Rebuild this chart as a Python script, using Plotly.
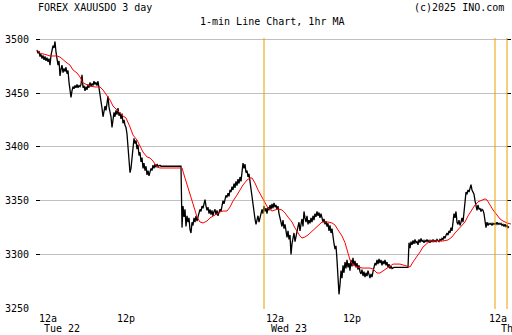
import plotly.graph_objects as go

# 1-minute gold spot quotes, one sample per chart column (sample 0 = Tue 00:00)
price = [
    3490, 3487, 3489, 3484, 3486, 3482, 3485, 3481, 3484, 3480, 3483, 3479, 3482, 3476, 3485, 3490,
    3494, 3492, 3498, 3488, 3481, 3476, 3480, 3466, 3472, 3476, 3469, 3473, 3470, 3474, 3468, 3471,
    3460, 3452, 3446, 3452, 3456, 3454, 3457, 3455, 3458, 3455, 3457, 3456, 3458, 3467, 3455, 3457,
    3452, 3456, 3453, 3458, 3455, 3460, 3456, 3459, 3457, 3461, 3458, 3460, 3457, 3461, 3455, 3450,
    3445, 3436, 3428, 3432, 3438, 3434, 3440, 3447, 3437, 3433, 3428, 3418, 3426, 3432, 3428, 3434,
    3430, 3436, 3429, 3432, 3426, 3431, 3422, 3425, 3420, 3418, 3412, 3400, 3385, 3376, 3380, 3392,
    3400, 3408, 3403, 3406, 3398, 3402, 3392, 3395, 3386, 3390, 3380, 3385, 3378, 3382, 3374, 3378,
    3373, 3377, 3380, 3378, 3383, 3380, 3384, 3381, 3384, 3382, 3383, 3383, 3382, 3382, 3382, 3382,
    3382, 3382, 3382, 3382, 3382, 3382, 3382, 3382, 3382, 3382, 3382, 3382, 3382, 3382, 3382, 3382,
    3382, 3325, 3345, 3335, 3342, 3326, 3336, 3330, 3334, 3323, 3320, 3330, 3327, 3334, 3330, 3336,
    3331, 3335, 3338, 3342, 3340, 3345, 3343, 3348, 3351, 3345, 3341, 3344, 3338, 3342, 3337, 3341,
    3336, 3340, 3342, 3337, 3341, 3336, 3340, 3342, 3340, 3345, 3350, 3347, 3352, 3355, 3353, 3357,
    3354, 3360, 3358, 3363, 3360, 3366, 3362, 3368, 3364, 3370, 3366, 3372, 3368, 3378, 3385, 3380,
    3384, 3376, 3378, 3372, 3375, 3368, 3360, 3352, 3345, 3340, 3333, 3328, 3332, 3336, 3330, 3334,
    3338, 3342, 3338, 3345, 3340, 3343, 3338, 3344, 3341, 3346, 3342, 3347, 3343, 3348, 3344, 3346,
    3342, 3345, 3338, 3334, 3330, 3326, 3332, 3324, 3328, 3320, 3316, 3322, 3314, 3318, 3300, 3310,
    3315, 3320, 3312, 3318, 3322, 3326, 3330, 3322, 3328, 3333, 3326, 3340, 3334, 3330, 3336, 3328,
    3332, 3329, 3334, 3330, 3336, 3332, 3338, 3335, 3340, 3336, 3339, 3334, 3338, 3334, 3330, 3333,
    3328, 3331, 3326, 3329, 3322, 3327, 3320, 3324, 3315, 3310, 3305, 3308, 3295, 3280, 3263, 3272,
    3285, 3278, 3290, 3283, 3293, 3287, 3295, 3288, 3292, 3285, 3295, 3289, 3297, 3290, 3294, 3288,
    3292, 3286, 3290, 3284, 3282, 3286, 3280, 3284, 3279, 3283, 3280, 3285, 3281, 3278, 3282, 3279,
    3284, 3288, 3292, 3290, 3295, 3291, 3296, 3292, 3295, 3290, 3294, 3291, 3295, 3290, 3293, 3288,
    3291, 3287, 3289, 3287, 3288, 3288, 3288, 3288, 3288, 3288, 3288, 3288, 3288, 3288, 3288, 3288,
    3288, 3288, 3288, 3288, 3311, 3306, 3312, 3309, 3313, 3310, 3314, 3311, 3312, 3309, 3314, 3311,
    3315, 3312, 3313, 3311, 3313, 3312, 3314, 3312, 3313, 3311, 3313, 3312, 3314, 3312, 3313, 3312,
    3314, 3313, 3312, 3314, 3313, 3315, 3314, 3317, 3315, 3318, 3320, 3318, 3322, 3320, 3325, 3322,
    3330, 3338, 3334, 3340, 3330, 3328, 3332, 3327, 3330, 3334, 3330, 3340, 3345, 3358, 3356, 3360,
    3358, 3362, 3365, 3360, 3358, 3356, 3350, 3344, 3341, 3346, 3342, 3343, 3340, 3342, 3341, 3338,
    3332, 3325, 3330, 3327, 3329, 3328, 3329, 3327, 3329, 3328, 3329, 3328, 3330, 3328, 3329, 3328,
    3329, 3327, 3328, 3326, 3328, 3326, 3327, 3325, 3326,
]
minute_idx = list(range(len(price)))

# 1-hour moving average, sampled along the same index
ma_idx = [0, 3, 8, 13, 18, 20, 23, 26, 30, 33, 36, 40, 43, 46, 50, 53, 58, 63, 66, 70, 73, 76,
          80, 83, 86, 89, 91, 93, 96, 100, 103, 106, 110, 113, 116, 120, 123, 133, 143, 145, 148,
          151, 154, 157, 160, 163, 166, 170, 173, 176, 180, 183, 186, 190, 193, 196, 200, 203, 206,
          210, 213, 215, 218, 221, 225, 228, 231, 235, 238, 241, 245, 248, 251, 255, 258, 261, 263,
          265, 268, 271, 275, 278, 281, 285, 288, 291, 295, 298, 301, 305, 308, 311, 313, 316, 320,
          326, 333, 336, 340, 343, 346, 350, 353, 356, 363, 366, 370, 373, 376, 380, 383, 386, 390,
          393, 400, 406, 411, 415, 418, 421, 425, 428, 431, 435, 438, 441, 445, 448, 450, 453, 456,
          460, 463, 466, 470, 474]
ma_val = [3490, 3487, 3486, 3484.5, 3484.5, 3484.5, 3483.5, 3480.8, 3478, 3476, 3471.5, 3468.7,
          3465, 3459.4, 3457.5, 3456.6, 3455.7, 3455.7, 3452.9, 3448.2, 3443.6, 3438, 3434.3,
          3430.6, 3428.7, 3426.9, 3423, 3418.5, 3411, 3406.4, 3400.8, 3395.2, 3390.6, 3389.7,
          3386.9, 3381.3, 3380.4, 3380.4, 3380.8, 3380.4, 3371, 3362.7, 3353.4, 3344.1, 3334.8,
          3330.2, 3329.3, 3331.1, 3334, 3335.8, 3337.6, 3339.5, 3340.4, 3340.4, 3344.1, 3349.7,
          3355.3, 3360, 3364.6, 3369.2, 3371.1, 3371.1, 3366.4, 3360, 3353.4, 3347.9, 3343.2,
          3340.4, 3341.4, 3342.3, 3341.4, 3338.6, 3334.8, 3330.2, 3324.6, 3320, 3317.2, 3315.3,
          3316.3, 3318.1, 3321.8, 3324.6, 3327.4, 3330.2, 3330.2, 3330.2, 3329.3, 3327.4, 3322.8,
          3317.2, 3311, 3302, 3294.9, 3290.2, 3288.4, 3287.4, 3287.4, 3286.5, 3282.8, 3282.8,
          3284.6, 3287.4, 3289.3, 3291.1, 3291.1, 3290.2, 3289.3, 3288.4, 3293, 3297.7, 3302.3,
          3307, 3310.7, 3312.6, 3312.6, 3312.6, 3313.5, 3316.3, 3320, 3322.8, 3326.5, 3330.2,
          3335.8, 3341.4, 3346, 3348.9, 3350.7, 3351.7, 3350.7, 3346, 3341.4, 3336.7, 3333,
          3331.1, 3329.3, 3328.3]

# price axis
y_ticks = [3250, 3300, 3350, 3400, 3450, 3500]

# time axis: label positions (sample index) and texts
day_marks = [0, 78, 227, 304, 458]
hour_text = ["12a", "12p", "12a", "12p", "12a"]
day_text = ["Tue 22", "", "Wed 23", "", "Th"]
session_lines = [227, 458, 470]

W, H = 512, 335
ML, MR, MT, MB = 36, 1, 38, 26
PW, PH = W - ML - MR, H - MT - MB
FONT = "DejaVu Sans Mono"


def px_x(px):
    return (px - ML) / PW


def px_y(py):
    return (H - MB - py) / PH


fig = go.Figure()
fig.add_trace(go.Scatter(x=minute_idx, y=price, mode="lines",
                         line=dict(color="black", width=1.3), hoverinfo="skip"))
fig.add_trace(go.Scatter(x=ma_idx, y=ma_val, mode="lines",
                         line=dict(color="#ff0000", width=1), hoverinfo="skip"))

for v in session_lines:
    fig.add_shape(type="line", xref="x", yref="paper", x0=v, x1=v, y0=0, y1=1,
                  line=dict(color="#e8a000", width=1), layer="above")

annotations = [
    dict(text="FOREX XAUUSDO 3 day", x=px_x(36), y=px_y(7.5), xanchor="left"),
    dict(text="(c)2025 INO.com", x=px_x(506), y=px_y(7.5), xanchor="right"),
    dict(text="1-min Line Chart, 1hr MA", x=px_x(272), y=px_y(21.5), xanchor="center"),
]
for pos, ht, dt in zip(day_marks, hour_text, day_text):
    base = ML + pos + 0.5
    day_left = ML + pos + 6
    if pos == 458:
        # last session sits against the right edge
        base = 487
        day_left = 499
    annotations.append(dict(text=ht, x=px_x(base), y=px_y(318), xanchor="left"))
    if dt:
        annotations.append(dict(text=dt, x=px_x(day_left), y=px_y(328.5), xanchor="left"))
for a in annotations:
    a.update(xref="paper", yref="paper", yanchor="middle", showarrow=False,
             font=dict(family=FONT, size=10, color="black"))

fig.update_layout(
    width=W, height=H,
    margin=dict(l=ML, r=MR, t=MT, b=MB, pad=0),
    paper_bgcolor="white", plot_bgcolor="white",
    showlegend=False,
    annotations=annotations,
    font=dict(family=FONT, size=10, color="black"),
)
fig.update_xaxes(range=[-1, 474], showgrid=False, zeroline=False, showline=False,
                 showticklabels=False, ticks="")
fig.update_yaxes(range=[3249.35, 3501.2], tickvals=y_ticks, ticktext=[str(v) for v in y_ticks],
                 showgrid=True, gridcolor="#c0c0c0", gridwidth=1, zeroline=False,
                 showline=False, ticks="inside", ticklen=4, tickcolor="black", tickwidth=1,
                 mirror="ticks", ticklabelstandoff=6,
                 tickfont=dict(family=FONT, size=10, color="black"))

fig.write_html("out.html", config={"displayModeBar": False})
